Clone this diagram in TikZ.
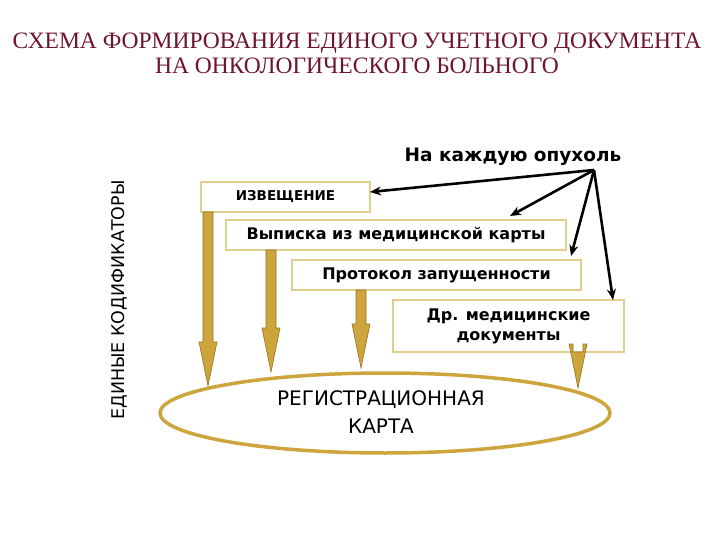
\documentclass[tikz,border=0pt]{standalone}
\usepackage{fontspec}
\setmainfont{Liberation Serif}
\newfontfamily\dv{DejaVu Sans}
\usetikzlibrary{arrows.meta,calc,shapes.geometric}
\definecolor{maroon}{RGB}{110,20,50}
\definecolor{gold}{RGB}{205,165,60}
\definecolor{golddark}{RGB}{150,115,30}
\definecolor{boxedge}{RGB}{225,205,140}
\tikzset{
  doc/.style={draw=boxedge,line width=2.5pt,fill=white,font=\dv\bfseries\fontsize{16}{20}\selectfont,inner sep=0pt,align=center},
  blk/.style={draw=golddark,fill=gold,line width=0.6pt},
  ptr/.style={-{Stealth[length=11pt,width=9pt]},line width=2.6pt,black}
}
\newcommand{\blockarrow}[3]{% x, ytop, ybottom
  \path[blk] (#1-5,#2) -- (#1+5,#2) -- (#1+5,#3-44) -- (#1+9,#3-44) -- (#1,#3) -- (#1-9,#3-44) -- (#1-5,#3-44) -- cycle;}
\begin{document}
\begin{tikzpicture}[x=1pt,y=-1pt]
\path[fill=white] (0,0) rectangle (720,540);
\node[text=maroon,font=\fontsize{23.5}{25}\selectfont,align=center] (title) at (357,53) {СХЕМА ФОРМИРОВАНИЯ ЕДИНОГО УЧЕТНОГО ДОКУМЕНТА\\НА ОНКОЛОГИЧЕСКОГО БОЛЬНОГО};
\node[font=\dv\bfseries\fontsize{18.5}{22}\selectfont] (each) at (513,157) {На каждую опухоль};
\coordinate (src) at (594,170);
\node[rotate=90,font=\dv\fontsize{17.5}{20}\selectfont] (cod) at (119,300) {ЕДИНЫЕ КОДИФИКАТОРЫ};
\node[draw=gold,line width=3.5pt,ellipse,inner sep=0pt,minimum width=450pt,minimum height=80pt] (card) at (385,413) {};
\node[font=\dv\fontsize{20}{28}\selectfont,align=center] (cardt) at (381,412) {РЕГИСТРАЦИОННАЯ\\КАРТА};
\node[doc,minimum width=169pt,minimum height=30pt] (b1) at (285.5,197) {\fontsize{13.5}{16}\selectfont ИЗВЕЩЕНИЕ};
\node[doc,minimum width=340pt,minimum height=30pt] (b2) at (396,235) {Выписка из медицинской карты};
\node[doc,minimum width=289pt,minimum height=30pt] (b3) at (436.5,275) {Протокол запущенности};
\node[doc,minimum width=231pt,minimum height=52pt] (b4) at (508.5,326) {Др. медицинские\\документы};
\blockarrow{208}{212}{386}
\blockarrow{271}{250}{372}
\blockarrow{361}{290}{368}
\blockarrow{578}{352}{388}
\draw[ptr] (src) -- (370,192);
\draw[ptr] (src) -- (510,216);
\draw[ptr] (src) -- (571,256);
\draw[ptr] (src) -- (613,300);
\end{tikzpicture}
\end{document}
